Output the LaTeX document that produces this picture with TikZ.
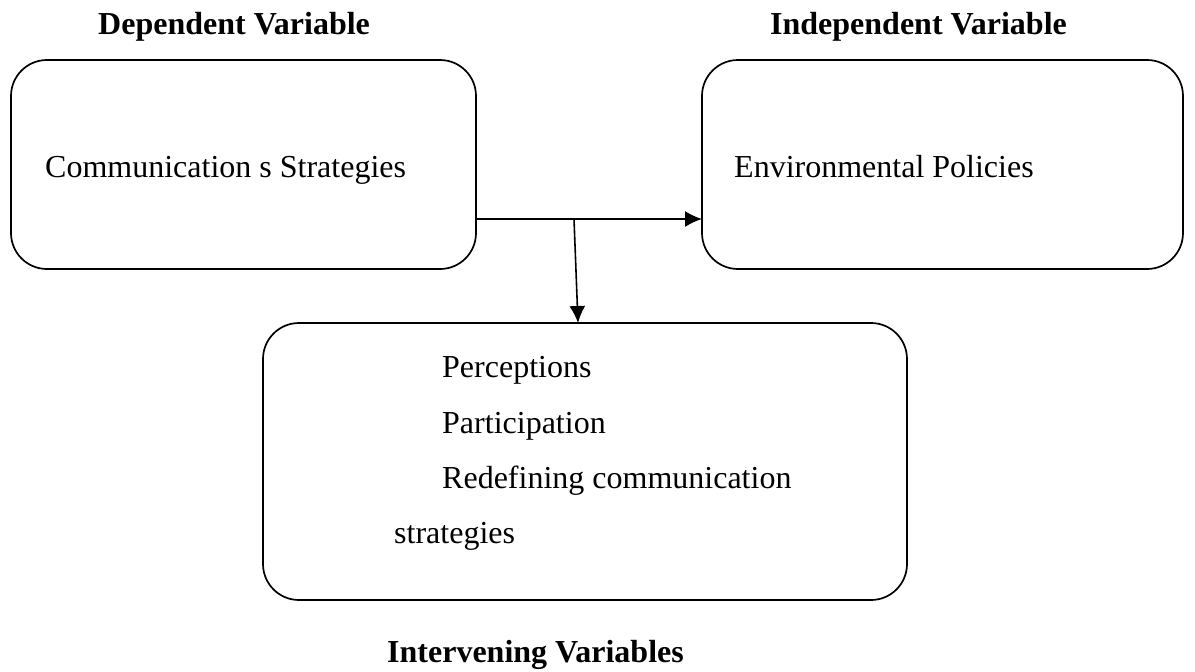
\documentclass[tikz,border=0pt]{standalone}
\usepackage{fontspec}
\setmainfont{Liberation Serif}
\usetikzlibrary{arrows.meta}
\begin{document}
\begin{tikzpicture}[x=1pt,y=1pt,
  box/.style={draw=black, line width=1.7pt, rounded corners=36pt, rectangle, inner sep=0pt, outer sep=0pt},
  txt/.style={anchor=base west, inner sep=0pt, font=\fontsize{32}{38}\selectfont},
  head/.style={anchor=base west, inner sep=0pt, font=\fontsize{32}{38}\selectfont\bfseries},
  arr/.style={line width=1.6pt, -{Latex[length=17pt,width=16pt]}}]
\useasboundingbox (0,0) rectangle (1195,-672);
\node[box, minimum width=465pt, minimum height=209pt] (b1) at (243.5,-164.5) {};
\node[box, minimum width=481pt, minimum height=209pt] (b2) at (942.5,-164.5) {};
\node[box, minimum width=644pt, minimum height=277pt] (b3) at (585,-461.5) {};
\node[head] (h1) at (98,-34) {Dependent Variable};
\node[head] (h2) at (770,-34) {Independent Variable};
\node[head] (h3) at (387,-662) {Intervening Variables};
\node[txt] (t1) at (45,-177) {Communication s Strategies};
\node[txt] (t2) at (734,-177) {Environmental Policies};
\node[txt] (p1) at (442,-377) {Perceptions};
\node[txt] (p2) at (442,-433) {Participation};
\node[txt] (p3) at (442,-488) {Redefining communication};
\node[txt] (p4) at (394,-543) {strategies};
\coordinate (j) at (574,-219);
\draw[arr] (b1.east |- j) -- (b2.west |- j);
\draw[arr] (j) -- ([xshift=-7pt]b3.north);
\end{tikzpicture}
\end{document}
